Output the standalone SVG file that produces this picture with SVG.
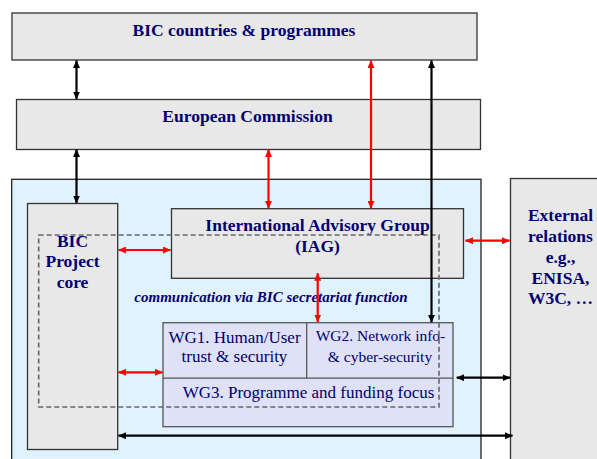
<svg xmlns="http://www.w3.org/2000/svg" width="597" height="459" viewBox="0 0 597 459">
  <defs>
    <marker id="headBlack" viewBox="0 0 8 7" refX="7.5" refY="3.5" markerWidth="8" markerHeight="7" markerUnits="userSpaceOnUse" orient="auto-start-reverse">
      <path d="M0,0 L8,3.5 L0,7 z" fill="#000"/>
    </marker>
    <marker id="headRed" viewBox="0 0 8 7" refX="7.5" refY="3.5" markerWidth="8" markerHeight="7" markerUnits="userSpaceOnUse" orient="auto-start-reverse">
      <path d="M0,0 L8,3.5 L0,7 z" fill="#ff0000"/>
    </marker>
  </defs>
  <style>
    .box { fill: #e8e8e8; stroke: #333; stroke-width: 1.3; }
    .area { fill: #e0f2fd; stroke: #222; stroke-width: 1.3; }
    .wg { fill: #dfe2f6; stroke: #555; stroke-width: 1.3; }
    .dash { fill: none; stroke: #666; stroke-width: 1.6; stroke-dasharray: 5 3; }
    .lbl { font-family: "Liberation Serif", "Times New Roman", serif; fill: #000070; text-anchor: middle; }
    .b { font-weight: bold; font-size: 17.5px; }
    .r { font-size: 17px; }
    .r2 { font-size: 15.5px; }
    .it { font-style: italic; font-weight: bold; font-size: 15px; }
    .blk { stroke: #000; stroke-width: 2.2; fill: none; marker-start: url(#headBlack); marker-end: url(#headBlack); }
    .red { stroke: #ff0000; stroke-width: 2.2; fill: none; marker-start: url(#headRed); marker-end: url(#headRed); }
  </style>

  <rect width="597" height="459" fill="#fff"/>

  <g id="bic-countries">
    <rect class="box" x="12" y="13" width="465" height="47"/>
    <text class="lbl b" x="244" y="36">BIC countries &amp; programmes</text>
  </g>

  <g id="european-commission">
    <rect class="box" x="16.5" y="99.5" width="464" height="50"/>
    <text class="lbl b" x="247.5" y="121.5">European Commission</text>
  </g>

  <g id="project-area">
    <rect class="area" x="11.7" y="179.3" width="469.3" height="300"/>
  </g>

  <g id="external-relations">
    <rect class="box" x="510.5" y="178.5" width="110" height="300"/>
    <text class="lbl b" x="560.5" y="220.5">External</text>
    <text class="lbl b" x="560.5" y="242">relations</text>
    <text class="lbl b" x="560.5" y="263">e.g.,</text>
    <text class="lbl b" x="560.5" y="283.5">ENISA,</text>
    <text class="lbl b" x="560.5" y="304">W3C, …</text>
  </g>

  <g id="bic-project-core">
    <rect class="box" x="27.5" y="203.5" width="90.2" height="246"/>
    <text class="lbl b" x="72.5" y="246.5">BIC</text>
    <text class="lbl b" x="72.5" y="267">Project</text>
    <text class="lbl b" x="72.5" y="288">core</text>
  </g>

  <g id="iag">
    <rect class="box" x="171.5" y="208.7" width="292" height="69.6"/>
    <text class="lbl b" x="317.5" y="230.5">International Advisory Group</text>
    <text class="lbl b" x="317.5" y="251.5">(IAG)</text>
  </g>

  <g id="working-groups">
    <rect class="wg" x="163" y="322.7" width="290" height="104"/>
    <line x1="163" y1="378.2" x2="453" y2="378.2" stroke="#555" stroke-width="1.3"/>
    <line x1="306.7" y1="322.7" x2="306.7" y2="378.2" stroke="#555" stroke-width="1.3"/>
    <text class="lbl r" x="234.5" y="343.3">WG1. Human/User</text>
    <text class="lbl r" x="234.5" y="361.7">trust &amp; security</text>
    <text class="lbl r2" x="380.5" y="340.7">WG2. Network info-</text>
    <text class="lbl r2" x="380" y="362.3">&amp; cyber-security</text>
    <text class="lbl r" x="308.5" y="398.3">WG3. Programme and funding focus</text>
  </g>

  <g id="secretariat">
    <rect class="dash" x="38.7" y="235" width="400.3" height="172"/>
    <text class="lbl it" x="271" y="301.5">communication via BIC secretariat function</text>
  </g>

  <g id="connectors">
    <line class="blk" x1="76.5" y1="60.5" x2="76.5" y2="99"/>
    <line class="blk" x1="76.5" y1="149.5" x2="76.5" y2="203"/>
    <line class="red" x1="268.5" y1="149.5" x2="268.5" y2="208.3"/>
    <line class="red" x1="371" y1="60.5" x2="371" y2="208.3"/>
    <line class="blk" x1="431.5" y1="60.5" x2="431.5" y2="322.3"/>
    <line class="red" x1="118.5" y1="250" x2="170.5" y2="250"/>
    <line class="red" x1="118.5" y1="372.3" x2="162.5" y2="372.3"/>
    <line class="red" x1="465.5" y1="240.7" x2="509.5" y2="240.7"/>
    <line class="red" x1="317.7" y1="273.3" x2="317.7" y2="322"/>
    <line class="blk" x1="456.7" y1="377.7" x2="510" y2="377.7"/>
    <line class="blk" x1="118.5" y1="435.7" x2="512.5" y2="435.7"/>
  </g>
</svg>
